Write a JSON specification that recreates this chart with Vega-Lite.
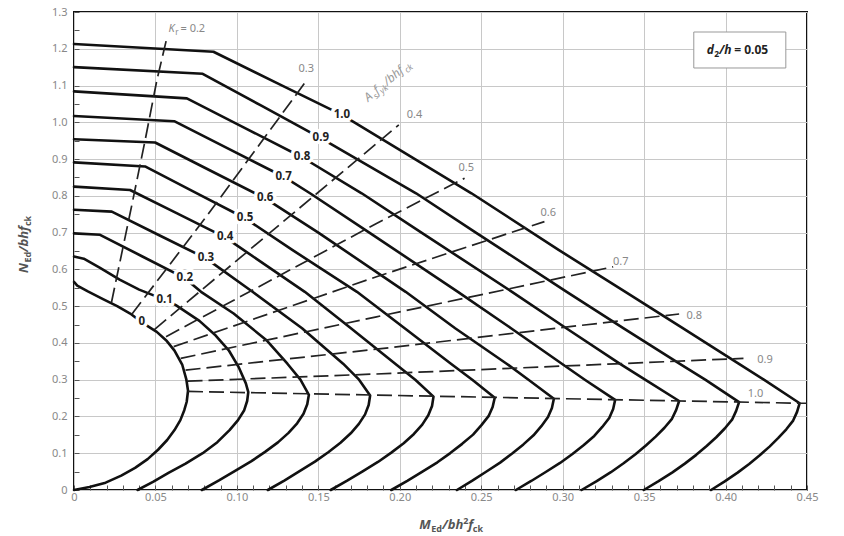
{
  "$schema": "https://vega.github.io/schema/vega-lite/v6.json",
  "width": 733,
  "height": 478,
  "autosize": {"type": "none"},
  "padding": {"left": 74, "top": 12, "right": 37, "bottom": 46},
  "background": "white",
  "config": {"font": "Noto Sans", "view": {"stroke": "#111", "strokeWidth": 2}},
  "data": {"values": [{}]},
  "datasets": {
    "curves": [
      {"w":0,"i":0,"x":0,"n":0.566},{"w":0,"i":1,"x":0.002,"n":0.556},{"w":0,"i":2,"x":0.0085,"n":0.54},{"w":0,"i":3,"x":0.0175,"n":0.52},{"w":0,"i":4,"x":0.0265,"n":0.5},{"w":0,"i":5,"x":0.0345,"n":0.48},{"w":0,"i":6,"x":0.0416,"n":0.456},{"w":0,"i":7,"x":0.0508,"n":0.43},{"w":0,"i":8,"x":0.057,"n":0.405},{"w":0,"i":9,"x":0.0617,"n":0.379},{"w":0,"i":10,"x":0.0665,"n":0.34},{"w":0,"i":11,"x":0.069,"n":0.3},{"w":0,"i":12,"x":0.07,"n":0.27},{"w":0,"i":13,"x":0.0692,"n":0.24},{"w":0,"i":14,"x":0.0677,"n":0.217},{"w":0,"i":15,"x":0.0653,"n":0.19},{"w":0,"i":16,"x":0.0617,"n":0.163},{"w":0,"i":17,"x":0.0572,"n":0.136},{"w":0,"i":18,"x":0.0516,"n":0.1095},{"w":0,"i":19,"x":0.0452,"n":0.084},{"w":0,"i":20,"x":0.0375,"n":0.06},{"w":0,"i":21,"x":0.029,"n":0.039},{"w":0,"i":22,"x":0.0194,"n":0.02},{"w":0,"i":23,"x":0.0095,"n":0.008},{"w":0,"i":24,"x":0,"n":0},
      {"w":0.1,"i":0,"x":0,"n":0.635},{"w":0.1,"i":1,"x":0.006,"n":0.629},{"w":0.1,"i":2,"x":0.016,"n":0.604},{"w":0.1,"i":3,"x":0.028,"n":0.572},{"w":0.1,"i":4,"x":0.04,"n":0.545},{"w":0.1,"i":5,"x":0.0485,"n":0.53},{"w":0.1,"i":6,"x":0.0557,"n":0.518},{"w":0.1,"i":7,"x":0.0625,"n":0.503},{"w":0.1,"i":8,"x":0.077,"n":0.46},{"w":0.1,"i":9,"x":0.087,"n":0.42},{"w":0.1,"i":10,"x":0.095,"n":0.38},{"w":0.1,"i":11,"x":0.101,"n":0.335},{"w":0.1,"i":12,"x":0.1055,"n":0.29},{"w":0.1,"i":13,"x":0.107,"n":0.266},{"w":0.1,"i":14,"x":0.1063,"n":0.242},{"w":0.1,"i":15,"x":0.1045,"n":0.217},{"w":0.1,"i":16,"x":0.1007,"n":0.19},{"w":0.1,"i":17,"x":0.0955,"n":0.163},{"w":0.1,"i":18,"x":0.088,"n":0.13},{"w":0.1,"i":19,"x":0.079,"n":0.1},{"w":0.1,"i":20,"x":0.0685,"n":0.072},{"w":0.1,"i":21,"x":0.058,"n":0.0467},{"w":0.1,"i":22,"x":0.0485,"n":0.022},{"w":0.1,"i":23,"x":0.039,"n":0},
      {"w":0.2,"i":0,"x":0,"n":0.698},{"w":0.2,"i":1,"x":0.016,"n":0.694},{"w":0.2,"i":2,"x":0.042,"n":0.635},{"w":0.2,"i":3,"x":0.068,"n":0.576},{"w":0.2,"i":4,"x":0.078,"n":0.539},{"w":0.2,"i":5,"x":0.098,"n":0.48},{"w":0.2,"i":6,"x":0.118,"n":0.408},{"w":0.2,"i":7,"x":0.131,"n":0.3435},{"w":0.2,"i":8,"x":0.139,"n":0.3},{"w":0.2,"i":9,"x":0.1442,"n":0.259},{"w":0.2,"i":10,"x":0.1432,"n":0.2331},{"w":0.2,"i":11,"x":0.1409,"n":0.2072},{"w":0.2,"i":12,"x":0.137,"n":0.1813},{"w":0.2,"i":13,"x":0.1317,"n":0.1554},{"w":0.2,"i":14,"x":0.1252,"n":0.1295},{"w":0.2,"i":15,"x":0.1173,"n":0.1036},{"w":0.2,"i":16,"x":0.1087,"n":0.0777},{"w":0.2,"i":17,"x":0.0989,"n":0.0518},{"w":0.2,"i":18,"x":0.089,"n":0.0259},{"w":0.2,"i":19,"x":0.0785,"n":0},
      {"w":0.3,"i":0,"x":0,"n":0.762},{"w":0.3,"i":1,"x":0.0232,"n":0.757},{"w":0.3,"i":2,"x":0.052,"n":0.6935},{"w":0.3,"i":3,"x":0.081,"n":0.63},{"w":0.3,"i":4,"x":0.1096,"n":0.539},{"w":0.3,"i":5,"x":0.14,"n":0.44},{"w":0.3,"i":6,"x":0.1652,"n":0.3435},{"w":0.3,"i":7,"x":0.175,"n":0.3},{"w":0.3,"i":8,"x":0.1818,"n":0.257},{"w":0.3,"i":9,"x":0.1809,"n":0.2313},{"w":0.3,"i":10,"x":0.1787,"n":0.2056},{"w":0.3,"i":11,"x":0.1749,"n":0.1799},{"w":0.3,"i":12,"x":0.1699,"n":0.1542},{"w":0.3,"i":13,"x":0.1636,"n":0.1285},{"w":0.3,"i":14,"x":0.1561,"n":0.1028},{"w":0.3,"i":15,"x":0.1479,"n":0.0771},{"w":0.3,"i":16,"x":0.1385,"n":0.0514},{"w":0.3,"i":17,"x":0.1291,"n":0.0257},{"w":0.3,"i":18,"x":0.119,"n":0},
      {"w":0.4,"i":0,"x":0,"n":0.825},{"w":0.4,"i":1,"x":0.0344,"n":0.816},{"w":0.4,"i":2,"x":0.0636,"n":0.7515},{"w":0.4,"i":3,"x":0.0928,"n":0.687},{"w":0.4,"i":4,"x":0.1417,"n":0.539},{"w":0.4,"i":5,"x":0.17,"n":0.44},{"w":0.4,"i":6,"x":0.1972,"n":0.3435},{"w":0.4,"i":7,"x":0.2095,"n":0.3},{"w":0.4,"i":8,"x":0.2207,"n":0.254},{"w":0.4,"i":9,"x":0.2198,"n":0.2286},{"w":0.4,"i":10,"x":0.2175,"n":0.2032},{"w":0.4,"i":11,"x":0.2138,"n":0.1778},{"w":0.4,"i":12,"x":0.2087,"n":0.1524},{"w":0.4,"i":13,"x":0.2024,"n":0.127},{"w":0.4,"i":14,"x":0.1948,"n":0.1016},{"w":0.4,"i":15,"x":0.1866,"n":0.0762},{"w":0.4,"i":16,"x":0.1772,"n":0.0508},{"w":0.4,"i":17,"x":0.1677,"n":0.0254},{"w":0.4,"i":18,"x":0.1576,"n":0},
      {"w":0.5,"i":0,"x":0,"n":0.891},{"w":0.5,"i":1,"x":0.0436,"n":0.88},{"w":0.5,"i":2,"x":0.074,"n":0.81},{"w":0.5,"i":3,"x":0.105,"n":0.739},{"w":0.5,"i":4,"x":0.134,"n":0.653},{"w":0.5,"i":5,"x":0.1737,"n":0.539},{"w":0.5,"i":6,"x":0.203,"n":0.44},{"w":0.5,"i":7,"x":0.2314,"n":0.3435},{"w":0.5,"i":8,"x":0.2445,"n":0.3},{"w":0.5,"i":9,"x":0.2583,"n":0.251},{"w":0.5,"i":10,"x":0.257,"n":0.2259},{"w":0.5,"i":11,"x":0.2545,"n":0.2008},{"w":0.5,"i":12,"x":0.25,"n":0.1757},{"w":0.5,"i":13,"x":0.245,"n":0.1506},{"w":0.5,"i":14,"x":0.2383,"n":0.1255},{"w":0.5,"i":15,"x":0.231,"n":0.1004},{"w":0.5,"i":16,"x":0.2231,"n":0.0753},{"w":0.5,"i":17,"x":0.2139,"n":0.0502},{"w":0.5,"i":18,"x":0.2046,"n":0.0251},{"w":0.5,"i":19,"x":0.1948,"n":0},
      {"w":0.6,"i":0,"x":0,"n":0.954},{"w":0.6,"i":1,"x":0.0498,"n":0.945},{"w":0.6,"i":2,"x":0.0836,"n":0.869},{"w":0.6,"i":3,"x":0.1174,"n":0.793},{"w":0.6,"i":4,"x":0.15,"n":0.7},{"w":0.6,"i":5,"x":0.2036,"n":0.539},{"w":0.6,"i":6,"x":0.234,"n":0.44},{"w":0.6,"i":7,"x":0.2656,"n":0.3435},{"w":0.6,"i":8,"x":0.279,"n":0.3},{"w":0.6,"i":9,"x":0.2946,"n":0.248},{"w":0.6,"i":10,"x":0.2934,"n":0.2232},{"w":0.6,"i":11,"x":0.291,"n":0.1984},{"w":0.6,"i":12,"x":0.2869,"n":0.1736},{"w":0.6,"i":13,"x":0.2821,"n":0.1488},{"w":0.6,"i":14,"x":0.2759,"n":0.124},{"w":0.6,"i":15,"x":0.269,"n":0.0992},{"w":0.6,"i":16,"x":0.2616,"n":0.0744},{"w":0.6,"i":17,"x":0.253,"n":0.0496},{"w":0.6,"i":18,"x":0.2443,"n":0.0248},{"w":0.6,"i":19,"x":0.2351,"n":0},
      {"w":0.7,"i":0,"x":0,"n":1.017},{"w":0.7,"i":1,"x":0.0615,"n":1.003},{"w":0.7,"i":2,"x":0.095,"n":0.9275},{"w":0.7,"i":3,"x":0.1287,"n":0.852},{"w":0.7,"i":4,"x":0.1449,"n":0.807},{"w":0.7,"i":5,"x":0.1813,"n":0.7},{"w":0.7,"i":6,"x":0.2357,"n":0.539},{"w":0.7,"i":7,"x":0.2683,"n":0.44},{"w":0.7,"i":8,"x":0.2995,"n":0.3435},{"w":0.7,"i":9,"x":0.3136,"n":0.3},{"w":0.7,"i":10,"x":0.3322,"n":0.245},{"w":0.7,"i":11,"x":0.331,"n":0.2205},{"w":0.7,"i":12,"x":0.3286,"n":0.196},{"w":0.7,"i":13,"x":0.3243,"n":0.1715},{"w":0.7,"i":14,"x":0.3194,"n":0.147},{"w":0.7,"i":15,"x":0.313,"n":0.1225},{"w":0.7,"i":16,"x":0.306,"n":0.098},{"w":0.7,"i":17,"x":0.2984,"n":0.0735},{"w":0.7,"i":18,"x":0.2896,"n":0.049},{"w":0.7,"i":19,"x":0.2807,"n":0.0245},{"w":0.7,"i":20,"x":0.2713,"n":0},
      {"w":0.8,"i":0,"x":0,"n":1.084},{"w":0.8,"i":1,"x":0.0693,"n":1.065},{"w":0.8,"i":2,"x":0.1047,"n":0.985},{"w":0.8,"i":3,"x":0.14,"n":0.905},{"w":0.8,"i":4,"x":0.1766,"n":0.807},{"w":0.8,"i":5,"x":0.2133,"n":0.7},{"w":0.8,"i":6,"x":0.2689,"n":0.539},{"w":0.8,"i":7,"x":0.3022,"n":0.44},{"w":0.8,"i":8,"x":0.335,"n":0.3435},{"w":0.8,"i":9,"x":0.3506,"n":0.3},{"w":0.8,"i":10,"x":0.3715,"n":0.242},{"w":0.8,"i":11,"x":0.3697,"n":0.2178},{"w":0.8,"i":12,"x":0.3671,"n":0.1936},{"w":0.8,"i":13,"x":0.3625,"n":0.1694},{"w":0.8,"i":14,"x":0.3571,"n":0.1452},{"w":0.8,"i":15,"x":0.3511,"n":0.121},{"w":0.8,"i":16,"x":0.3445,"n":0.0968},{"w":0.8,"i":17,"x":0.3374,"n":0.0726},{"w":0.8,"i":18,"x":0.3296,"n":0.0484},{"w":0.8,"i":19,"x":0.3209,"n":0.0242},{"w":0.8,"i":20,"x":0.3116,"n":0},
      {"w":0.9,"i":0,"x":0,"n":1.15},{"w":0.9,"i":1,"x":0.079,"n":1.132},{"w":0.9,"i":2,"x":0.1153,"n":1.0445},{"w":0.9,"i":3,"x":0.1515,"n":0.957},{"w":0.9,"i":4,"x":0.21,"n":0.807},{"w":0.9,"i":5,"x":0.2467,"n":0.7},{"w":0.9,"i":6,"x":0.3025,"n":0.539},{"w":0.9,"i":7,"x":0.3372,"n":0.44},{"w":0.9,"i":8,"x":0.3717,"n":0.3435},{"w":0.9,"i":9,"x":0.3875,"n":0.3},{"w":0.9,"i":10,"x":0.4083,"n":0.239},{"w":0.9,"i":11,"x":0.4065,"n":0.2151},{"w":0.9,"i":12,"x":0.404,"n":0.1912},{"w":0.9,"i":13,"x":0.3995,"n":0.1673},{"w":0.9,"i":14,"x":0.3943,"n":0.1434},{"w":0.9,"i":15,"x":0.3884,"n":0.1195},{"w":0.9,"i":16,"x":0.382,"n":0.0956},{"w":0.9,"i":17,"x":0.375,"n":0.0717},{"w":0.9,"i":18,"x":0.3674,"n":0.0478},{"w":0.9,"i":19,"x":0.3589,"n":0.0239},{"w":0.9,"i":20,"x":0.3498,"n":0},
      {"w":1.0,"i":0,"x":0,"n":1.213},{"w":1.0,"i":1,"x":0.0856,"n":1.192},{"w":1.0,"i":2,"x":0.125,"n":1.106},{"w":1.0,"i":3,"x":0.1645,"n":1.02},{"w":1.0,"i":4,"x":0.244,"n":0.807},{"w":1.0,"i":5,"x":0.2975,"n":0.653},{"w":1.0,"i":6,"x":0.3385,"n":0.539},{"w":1.0,"i":7,"x":0.3737,"n":0.44},{"w":1.0,"i":8,"x":0.408,"n":0.3435},{"w":1.0,"i":9,"x":0.4235,"n":0.3},{"w":1.0,"i":10,"x":0.4455,"n":0.236},{"w":1.0,"i":11,"x":0.4439,"n":0.2124},{"w":1.0,"i":12,"x":0.4415,"n":0.1888},{"w":1.0,"i":13,"x":0.4373,"n":0.1652},{"w":1.0,"i":14,"x":0.4324,"n":0.1416},{"w":1.0,"i":15,"x":0.427,"n":0.118},{"w":1.0,"i":16,"x":0.421,"n":0.0944},{"w":1.0,"i":17,"x":0.4145,"n":0.0708},{"w":1.0,"i":18,"x":0.4074,"n":0.0472},{"w":1.0,"i":19,"x":0.3995,"n":0.0236},{"w":1.0,"i":20,"x":0.3911,"n":0}
    ],
    "kr": [
      {"k":0.2,"i":0,"x":0.023,"n":0.51},{"k":0.2,"i":1,"x":0.0355,"n":0.775},{"k":0.2,"i":2,"x":0.0437,"n":0.952},{"k":0.2,"i":3,"x":0.0509,"n":1.115},{"k":0.2,"i":4,"x":0.0566,"n":1.222},
      {"k":0.3,"i":0,"x":0.0355,"n":0.478},{"k":0.3,"i":1,"x":0.0815,"n":0.745},{"k":0.3,"i":2,"x":0.143,"n":1.115},
      {"k":0.4,"i":0,"x":0.0495,"n":0.437},{"k":0.4,"i":1,"x":0.1994,"n":0.993},
      {"k":0.5,"i":0,"x":0.0565,"n":0.417},{"k":0.5,"i":1,"x":0.1857,"n":0.725},{"k":0.5,"i":2,"x":0.2398,"n":0.848},
      {"k":0.6,"i":0,"x":0.0612,"n":0.39},{"k":0.6,"i":1,"x":0.1857,"n":0.58},{"k":0.6,"i":2,"x":0.2888,"n":0.73},
      {"k":0.7,"i":0,"x":0.0655,"n":0.358},{"k":0.7,"i":1,"x":0.1857,"n":0.471},{"k":0.7,"i":2,"x":0.331,"n":0.607},
      {"k":0.8,"i":0,"x":0.0685,"n":0.326},{"k":0.8,"i":1,"x":0.1857,"n":0.383},{"k":0.8,"i":2,"x":0.3715,"n":0.4787},
      {"k":0.9,"i":0,"x":0.0697,"n":0.296},{"k":0.9,"i":1,"x":0.1857,"n":0.3155},{"k":0.9,"i":2,"x":0.411,"n":0.358},
      {"k":1.0,"i":0,"x":0.07,"n":0.268},{"k":1.0,"i":1,"x":0.4455,"n":0.236},{"k":1.0,"i":2,"x":0.45,"n":0.236}
    ],
    "wlab": [
      {"t":"0","x":0.0416,"n":0.456},{"t":"0.1","x":0.0557,"n":0.518},{"t":"0.2","x":0.068,"n":0.576},{"t":"0.3","x":0.081,"n":0.63},{"t":"0.4","x":0.0928,"n":0.687},{"t":"0.5","x":0.105,"n":0.739},{"t":"0.6","x":0.1174,"n":0.793},{"t":"0.7","x":0.1287,"n":0.852},{"t":"0.8","x":0.14,"n":0.905},{"t":"0.9","x":0.1515,"n":0.957},{"t":"1.0","x":0.1645,"n":1.02}
    ],
    "krlab": [
      {"t":"0.3","x":0.1426,"n":1.144},{"t":"0.4","x":0.209,"n":1.02},{"t":"0.5","x":0.2408,"n":0.875},{"t":"0.6","x":0.2912,"n":0.7525},{"t":"0.7","x":0.3357,"n":0.621},{"t":"0.8","x":0.3808,"n":0.473},{"t":"0.9","x":0.4242,"n":0.3536},{"t":"1.0","x":0.4184,"n":0.261}
    ]
  },
  "layer": [
    {
      "data": {"name": "curves"},
      "mark": {"type": "line", "color": "#111", "strokeWidth": 2.6, "strokeJoin": "round", "strokeCap": "round"},
      "encoding": {
        "x": {"field": "x", "type": "quantitative", "title": null,
          "scale": {"domain": [0, 0.45], "nice": false, "zero": false},
          "axis": {"values": [0,0.01,0.02,0.03,0.04,0.05,0.06,0.07,0.08,0.09,0.1,0.11,0.12,0.13,0.14,0.15,0.16,0.17,0.18,0.19,0.2,0.21,0.22,0.23,0.24,0.25,0.26,0.27,0.28,0.29,0.3,0.31,0.32,0.33,0.34,0.35,0.36,0.37,0.38,0.39,0.4,0.41,0.42,0.43,0.44,0.45],
            "tickCount": 60,
            "labelExpr": "round(datum.value*100) % 5 == 0 ? (datum.value == 0 ? '0' : format(datum.value, '.2f')) : ''",
            "gridOpacity": {"condition": {"test": "round(datum.value*100) % 5 == 0", "value": 1}, "value": 0},
            "gridColor": "#c8c8c8", "gridWidth": 1, "domain": false,
            "tickSize": -5, "tickColor": "#555", "tickWidth": 1,
            "labelColor": "#888", "labelFontSize": 11, "labelPadding": 6, "labelOverlap": false, "labelFlush": false, "title": null}},
        "y": {"field": "n", "type": "quantitative", "title": null,
          "scale": {"domain": [0, 1.3], "nice": false, "zero": false},
          "axis": {"values": [0,0.05,0.1,0.15,0.2,0.25,0.3,0.35,0.4,0.45,0.5,0.55,0.6,0.65,0.7,0.75,0.8,0.85,0.9,0.95,1,1.05,1.1,1.15,1.2,1.25,1.3],
            "tickCount": 40,
            "labelExpr": "round(datum.value*100) % 10 == 0 ? (datum.value == 0 ? '0' : format(datum.value, '.1f')) : ''",
            "gridOpacity": {"condition": {"test": "round(datum.value*100) % 10 == 0", "value": 1}, "value": 0},
            "gridColor": "#c8c8c8", "gridWidth": 1, "domain": false,
            "tickSize": -5, "tickColor": "#555", "tickWidth": 1,
            "labelColor": "#888", "labelFontSize": 11, "labelPadding": 12, "labelOverlap": false, "labelFlush": false, "title": null}},
        "detail": {"field": "w", "type": "nominal"},
        "order": {"field": "i", "type": "quantitative"}
      }
    },
    {
      "data": {"name": "kr"},
      "mark": {"type": "line", "color": "#222", "strokeWidth": 1.7, "strokeDash": [15, 6]},
      "encoding": {
        "x": {"field": "x", "type": "quantitative", "title": null},
        "y": {"field": "n", "type": "quantitative", "title": null},
        "detail": {"field": "k", "type": "nominal"},
        "order": {"field": "i", "type": "quantitative"}
      }
    },
    {
      "data": {"name": "wlab"},
      "mark": {"type": "text", "fontSize": 11.5, "fontWeight": "bold", "fill": "white", "stroke": "white", "strokeWidth": 7, "strokeJoin": "round", "align": "center", "baseline": "middle"},
      "encoding": {
        "x": {"field": "x", "type": "quantitative", "title": null},
        "y": {"field": "n", "type": "quantitative", "title": null},
        "text": {"field": "t"}
      }
    },
    {
      "data": {"name": "wlab"},
      "mark": {"type": "text", "fontSize": 11.5, "fontWeight": "bold", "color": "#222", "align": "center", "baseline": "middle"},
      "encoding": {
        "x": {"field": "x", "type": "quantitative", "title": null},
        "y": {"field": "n", "type": "quantitative", "title": null},
        "text": {"field": "t"}
      }
    },
    {
      "data": {"name": "krlab"},
      "mark": {"type": "text", "fontSize": 11, "color": "#888", "align": "center", "baseline": "middle"},
      "encoding": {
        "x": {"field": "x", "type": "quantitative", "title": null},
        "y": {"field": "n", "type": "quantitative", "title": null},
        "text": {"field": "t"}
      }
    },
    {"mark": {"type": "text", "text": "K", "fontSize": 11, "fontStyle": "italic", "color": "#888", "align": "left", "baseline": "alphabetic"}, "encoding": {"x": {"datum": 0.058}, "y": {"datum": 1.2456}}},
    {"mark": {"type": "text", "text": "r", "fontSize": 8, "color": "#888", "align": "left", "baseline": "alphabetic", "dx": 6.8, "dy": 3}, "encoding": {"x": {"datum": 0.058}, "y": {"datum": 1.2456}}},
    {"mark": {"type": "text", "text": "= 0.2", "fontSize": 11, "color": "#888", "align": "left", "baseline": "alphabetic", "dx": 12}, "encoding": {"x": {"datum": 0.058}, "y": {"datum": 1.2456}}},
    {"mark": {"type": "text", "text": "A", "fontSize": 12, "fontStyle": "italic", "color": "#999", "align": "left", "baseline": "alphabetic", "angle": -40}, "encoding": {"x": {"datum": 0.1807}, "y": {"datum": 1.055}}},
    {"mark": {"type": "text", "text": "s", "fontSize": 8.5, "fontStyle": "italic", "color": "#999", "align": "left", "baseline": "alphabetic", "angle": -40, "dx": 7.7, "dy": 3}, "encoding": {"x": {"datum": 0.1807}, "y": {"datum": 1.055}}},
    {"mark": {"type": "text", "text": "f", "fontSize": 12, "fontStyle": "italic", "color": "#999", "align": "left", "baseline": "alphabetic", "angle": -40, "dx": 11.8}, "encoding": {"x": {"datum": 0.1807}, "y": {"datum": 1.055}}},
    {"mark": {"type": "text", "text": "yk", "fontSize": 8.5, "fontStyle": "italic", "color": "#999", "align": "left", "baseline": "alphabetic", "angle": -40, "dx": 15.9, "dy": 3}, "encoding": {"x": {"datum": 0.1807}, "y": {"datum": 1.055}}},
    {"mark": {"type": "text", "text": "/bhf", "fontSize": 12, "fontStyle": "italic", "color": "#999", "align": "left", "baseline": "alphabetic", "angle": -40, "dx": 25}, "encoding": {"x": {"datum": 0.1807}, "y": {"datum": 1.055}}},
    {"mark": {"type": "text", "text": "ck", "fontSize": 8.5, "fontStyle": "italic", "color": "#999", "align": "left", "baseline": "alphabetic", "angle": -40, "dx": 48.5, "dy": 3}, "encoding": {"x": {"datum": 0.1807}, "y": {"datum": 1.055}}},
    {"mark": {"type": "rect", "fill": "white", "stroke": "#999", "strokeWidth": 1}, "encoding": {"x": {"datum": 0.3805}, "x2": {"datum": 0.437}, "y": {"datum": 1.2456}, "y2": {"datum": 1.1477}}},
    {"mark": {"type": "text", "text": "d", "fontSize": 12, "fontStyle": "italic", "fontWeight": "bold", "color": "#222", "align": "left", "baseline": "alphabetic"}, "encoding": {"x": {"datum": 0.3884}, "y": {"datum": 1.186}}},
    {"mark": {"type": "text", "text": "2", "fontSize": 8.5, "fontWeight": "bold", "color": "#222", "align": "left", "baseline": "alphabetic", "dx": 7.5, "dy": 3}, "encoding": {"x": {"datum": 0.3884}, "y": {"datum": 1.186}}},
    {"mark": {"type": "text", "text": "/h", "fontSize": 12, "fontStyle": "italic", "fontWeight": "bold", "color": "#222", "align": "left", "baseline": "alphabetic", "dx": 12.5}, "encoding": {"x": {"datum": 0.3884}, "y": {"datum": 1.186}}},
    {"mark": {"type": "text", "text": "= 0.05", "fontSize": 12, "fontWeight": "bold", "color": "#222", "align": "left", "baseline": "alphabetic", "dx": 27.5}, "encoding": {"x": {"datum": 0.3884}, "y": {"datum": 1.186}}},
    {"mark": {"type": "text", "text": "M", "fontSize": 13, "fontStyle": "italic", "fontWeight": "bold", "color": "#555", "align": "left", "baseline": "alphabetic"}, "encoding": {"x": {"datum": 0.212}, "y": {"datum": -0.106}}},
    {"mark": {"type": "text", "text": "Ed", "fontSize": 9, "fontWeight": "bold", "color": "#555", "align": "left", "baseline": "alphabetic", "dx": 12, "dy": 3}, "encoding": {"x": {"datum": 0.212}, "y": {"datum": -0.106}}},
    {"mark": {"type": "text", "text": "/bh", "fontSize": 13, "fontStyle": "italic", "fontWeight": "bold", "color": "#555", "align": "left", "baseline": "alphabetic", "dx": 23}, "encoding": {"x": {"datum": 0.212}, "y": {"datum": -0.106}}},
    {"mark": {"type": "text", "text": "2", "fontSize": 9, "fontWeight": "bold", "color": "#555", "align": "left", "baseline": "alphabetic", "dx": 44, "dy": -5}, "encoding": {"x": {"datum": 0.212}, "y": {"datum": -0.106}}},
    {"mark": {"type": "text", "text": "f", "fontSize": 13, "fontStyle": "italic", "fontWeight": "bold", "color": "#555", "align": "left", "baseline": "alphabetic", "dx": 49}, "encoding": {"x": {"datum": 0.212}, "y": {"datum": -0.106}}},
    {"mark": {"type": "text", "text": "ck", "fontSize": 9, "fontWeight": "bold", "color": "#555", "align": "left", "baseline": "alphabetic", "dx": 53.5, "dy": 3}, "encoding": {"x": {"datum": 0.212}, "y": {"datum": -0.106}}},
    {"mark": {"type": "text", "text": "N", "fontSize": 13, "fontStyle": "italic", "fontWeight": "bold", "color": "#555", "align": "left", "baseline": "alphabetic", "angle": -90}, "encoding": {"x": {"datum": -0.0283}, "y": {"datum": 0.59}}},
    {"mark": {"type": "text", "text": "Ed", "fontSize": 9, "fontWeight": "bold", "color": "#555", "align": "left", "baseline": "alphabetic", "angle": -90, "dx": 10.5, "dy": 3}, "encoding": {"x": {"datum": -0.0283}, "y": {"datum": 0.59}}},
    {"mark": {"type": "text", "text": "/bhf", "fontSize": 13, "fontStyle": "italic", "fontWeight": "bold", "color": "#555", "align": "left", "baseline": "alphabetic", "angle": -90, "dx": 21}, "encoding": {"x": {"datum": -0.0283}, "y": {"datum": 0.59}}},
    {"mark": {"type": "text", "text": "ck", "fontSize": 9, "fontWeight": "bold", "color": "#555", "align": "left", "baseline": "alphabetic", "angle": -90, "dx": 47, "dy": 3}, "encoding": {"x": {"datum": -0.0283}, "y": {"datum": 0.59}}}
  ]
}
